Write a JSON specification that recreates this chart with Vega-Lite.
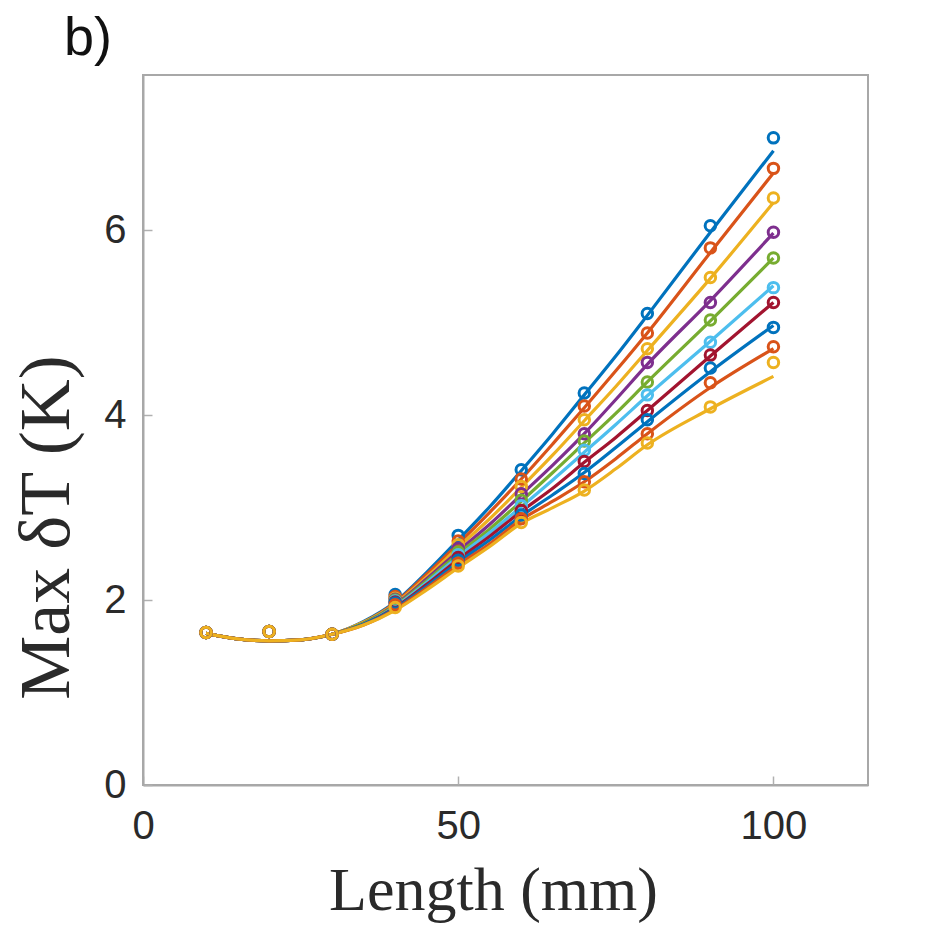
{
  "$schema": "https://vega.github.io/schema/vega-lite/v6.json",
  "width": 725,
  "height": 710,
  "autosize": {"type": "none"},
  "padding": {"left": 143, "top": 75, "right": 71, "bottom": 151},
  "background": "white",
  "title": {"text": "b)", "anchor": "start", "frame": "group", "dx": -79, "offset": 9, "font": "Liberation Sans", "fontSize": 54, "fontWeight": "normal", "color": "#111111"},
  "config": {
    "view": {"stroke": "#a8a8a8", "strokeWidth": 2},
    "axis": {"labelFont": "Liberation Sans", "labelFontSize": 40, "labelColor": "#2a2a2a", "titleFont": "Liberation Serif", "titleFontWeight": "normal", "titleColor": "#2a2a2a", "domainColor": "#a8a8a8", "domainWidth": 2, "tickColor": "#b0b0b0", "tickWidth": 1.5, "grid": false}
  },
  "datasets": {
    "fit": [
      {"x": 10, "s1": 1.64, "s2": 1.64, "s3": 1.64, "s4": 1.64, "s5": 1.64, "s6": 1.64, "s7": 1.64, "s8": 1.64, "s9": 1.64, "s10": 1.64},
      {"x": 15, "s1": 1.58, "s2": 1.58, "s3": 1.58, "s4": 1.58, "s5": 1.58, "s6": 1.58, "s7": 1.58, "s8": 1.58, "s9": 1.58, "s10": 1.58},
      {"x": 20, "s1": 1.56, "s2": 1.56, "s3": 1.56, "s4": 1.56, "s5": 1.56, "s6": 1.56, "s7": 1.56, "s8": 1.56, "s9": 1.56, "s10": 1.56},
      {"x": 25, "s1": 1.57, "s2": 1.57, "s3": 1.57, "s4": 1.57, "s5": 1.57, "s6": 1.57, "s7": 1.57, "s8": 1.57, "s9": 1.57, "s10": 1.57},
      {"x": 30, "s1": 1.63, "s2": 1.63, "s3": 1.63, "s4": 1.63, "s5": 1.63, "s6": 1.63, "s7": 1.63, "s8": 1.63, "s9": 1.63, "s10": 1.63},
      {"x": 35, "s1": 1.77, "s2": 1.76, "s3": 1.76, "s4": 1.75, "s5": 1.75, "s6": 1.74, "s7": 1.74, "s8": 1.74, "s9": 1.73, "s10": 1.73},
      {"x": 40, "s1": 1.98, "s2": 1.97, "s3": 1.96, "s4": 1.95, "s5": 1.94, "s6": 1.93, "s7": 1.92, "s8": 1.91, "s9": 1.90, "s10": 1.89},
      {"x": 45, "s1": 2.30, "s2": 2.28, "s3": 2.25, "s4": 2.23, "s5": 2.21, "s6": 2.19, "s7": 2.17, "s8": 2.15, "s9": 2.13, "s10": 2.11},
      {"x": 50, "s1": 2.65, "s2": 2.61, "s3": 2.57, "s4": 2.53, "s5": 2.50, "s6": 2.47, "s7": 2.44, "s8": 2.41, "s9": 2.38, "s10": 2.35},
      {"x": 55, "s1": 3.01, "s2": 2.95, "s3": 2.88, "s4": 2.82, "s5": 2.77, "s6": 2.73, "s7": 2.69, "s8": 2.65, "s9": 2.61, "s10": 2.58},
      {"x": 60, "s1": 3.40, "s2": 3.31, "s3": 3.22, "s4": 3.14, "s5": 3.07, "s6": 3.01, "s7": 2.96, "s8": 2.91, "s9": 2.87, "s10": 2.83},
      {"x": 65, "s1": 3.80, "s2": 3.69, "s3": 3.57, "s4": 3.46, "s5": 3.38, "s6": 3.30, "s7": 3.21, "s8": 3.14, "s9": 3.07, "s10": 3.00},
      {"x": 70, "s1": 4.22, "s2": 4.08, "s3": 3.94, "s4": 3.80, "s5": 3.70, "s6": 3.60, "s7": 3.49, "s8": 3.38, "s9": 3.28, "s10": 3.18},
      {"x": 75, "s1": 4.64, "s2": 4.48, "s3": 4.31, "s4": 4.17, "s5": 4.02, "s6": 3.90, "s7": 3.76, "s8": 3.65, "s9": 3.53, "s10": 3.42},
      {"x": 80, "s1": 5.08, "s2": 4.89, "s3": 4.70, "s4": 4.55, "s5": 4.36, "s6": 4.21, "s7": 4.05, "s8": 3.93, "s9": 3.80, "s10": 3.68},
      {"x": 90, "s1": 5.98, "s2": 5.76, "s3": 5.48, "s4": 5.24, "s5": 5.02, "s6": 4.80, "s7": 4.64, "s8": 4.47, "s9": 4.30, "s10": 4.07},
      {"x": 100, "s1": 6.86, "s2": 6.62, "s3": 6.30, "s4": 5.97, "s5": 5.70, "s6": 5.40, "s7": 5.22, "s8": 4.97, "s9": 4.72, "s10": 4.42}
    ],
    "pts": [
      {"x": 10, "s1": 1.65, "s2": 1.65, "s3": 1.65, "s4": 1.65, "s5": 1.65, "s6": 1.65, "s7": 1.65, "s8": 1.65, "s9": 1.65, "s10": 1.65},
      {"x": 20, "s1": 1.66, "s2": 1.66, "s3": 1.66, "s4": 1.66, "s5": 1.66, "s6": 1.66, "s7": 1.66, "s8": 1.66, "s9": 1.66, "s10": 1.66},
      {"x": 30, "s1": 1.63, "s2": 1.63, "s3": 1.63, "s4": 1.63, "s5": 1.63, "s6": 1.63, "s7": 1.63, "s8": 1.63, "s9": 1.63, "s10": 1.63},
      {"x": 40, "s1": 2.06, "s2": 2.04, "s3": 2.02, "s4": 2.01, "s5": 2.00, "s6": 1.99, "s7": 1.98, "s8": 1.97, "s9": 1.95, "s10": 1.92},
      {"x": 50, "s1": 2.70, "s2": 2.64, "s3": 2.60, "s4": 2.56, "s5": 2.52, "s6": 2.49, "s7": 2.46, "s8": 2.43, "s9": 2.40, "s10": 2.37},
      {"x": 60, "s1": 3.41, "s2": 3.31, "s3": 3.23, "s4": 3.15, "s5": 3.08, "s6": 3.02, "s7": 2.97, "s8": 2.92, "s9": 2.88, "s10": 2.84},
      {"x": 70, "s1": 4.24, "s2": 4.10, "s3": 3.95, "s4": 3.80, "s5": 3.72, "s6": 3.62, "s7": 3.50, "s8": 3.37, "s9": 3.28, "s10": 3.19},
      {"x": 80, "s1": 5.10, "s2": 4.89, "s3": 4.72, "s4": 4.57, "s5": 4.36, "s6": 4.22, "s7": 4.05, "s8": 3.95, "s9": 3.80, "s10": 3.70},
      {"x": 90, "s1": 6.05, "s2": 5.81, "s3": 5.49, "s4": 5.22, "s5": 5.03, "s6": 4.79, "s7": 4.65, "s8": 4.51, "s9": 4.35, "s10": 4.09},
      {"x": 100, "s1": 7.00, "s2": 6.67, "s3": 6.35, "s4": 5.98, "s5": 5.70, "s6": 5.38, "s7": 5.22, "s8": 4.95, "s9": 4.74, "s10": 4.57}
    ]
  },
  "encoding": {
    "x": {"field": "x", "type": "quantitative", "scale": {"domain": [0, 115], "nice": false, "zero": false},
      "axis": {"values": [0, 50, 100], "title": "Length (mm)", "titleFontSize": 62, "titlePadding": 14, "titleX": 350, "tickSize": -9, "labelPadding": 30, "labelFlush": false}},
    "y": {"field": "y", "type": "quantitative", "scale": {"domain": [0, 7.68], "nice": false, "zero": false},
      "axis": {"values": [0, 2, 4, 6], "title": "Max δT (K)", "titleFontSize": 72, "titlePadding": 20, "titleY": 452, "tickSize": -9, "labelPadding": 26, "labelFlush": false}},
    "color": {"field": "series", "type": "nominal", "legend": null,
      "scale": {"domain": ["s1", "s2", "s3", "s4", "s5", "s6", "s7", "s8", "s9", "s10"],
        "range": ["#0072BD", "#D95319", "#EDB120", "#7E2F8E", "#77AC30", "#4DBEEE", "#A2142F", "#0072BD", "#D95319", "#EDB120"]}}
  },
  "layer": [
    {
      "data": {"name": "fit"},
      "transform": [{"fold": ["s1", "s2", "s3", "s4", "s5", "s6", "s7", "s8", "s9", "s10"], "as": ["series", "y"]}],
      "mark": {"type": "line", "interpolate": "monotone", "strokeWidth": 3.2}
    },
    {
      "data": {"name": "pts"},
      "transform": [{"fold": ["s1", "s2", "s3", "s4", "s5", "s6", "s7", "s8", "s9", "s10"], "as": ["series", "y"]}],
      "mark": {"type": "point", "shape": "circle", "filled": false, "size": 110, "strokeWidth": 3, "opacity": 1}
    }
  ]
}
